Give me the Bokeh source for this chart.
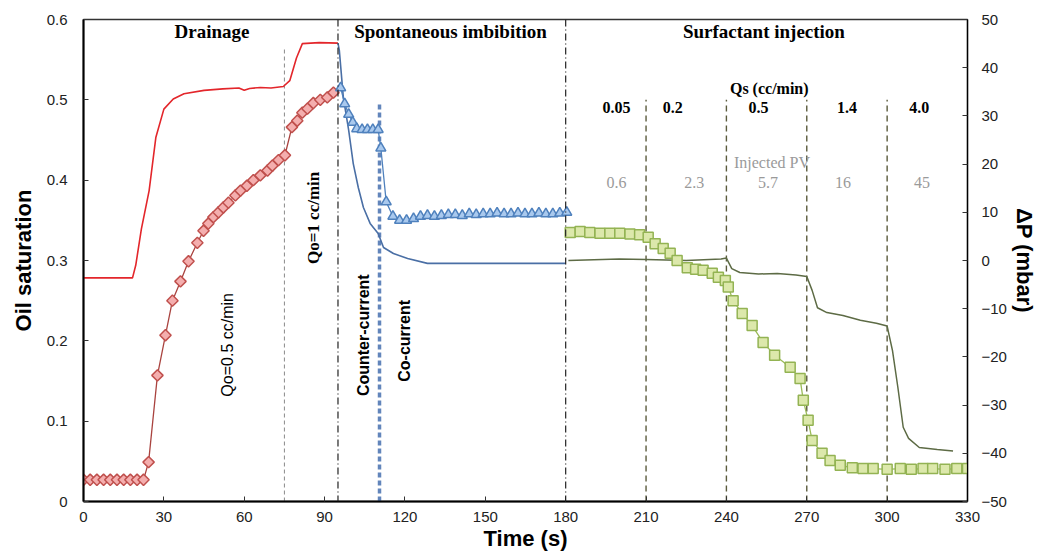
import numpy as np
from bokeh.plotting import figure
from bokeh.models import Range1d, LinearAxis, FixedTicker, Span
from bokeh.core.properties import value
from bokeh.embed import file_html
from bokeh.resources import INLINE

# ---------------- data ----------------
# Drainage: oil saturation (left axis) and pressure drop (right axis)
drain_sat_t = [0, 2.5, 5, 7.5, 10, 12.5, 15, 17.5, 20, 22.4, 24.3, 27.6, 30.6, 33.2, 36.2,
               39.2, 42.5, 44.8, 46.6, 48.5, 50.4, 52.2, 54.1, 56.7, 58.6, 61, 63.4, 66,
               68.7, 70.5, 72.8, 75.2, 77.8, 79.8, 81.7, 83.6, 85.8, 88.4, 91, 93.3]
drain_sat = [0.027, 0.027, 0.027, 0.027, 0.027, 0.027, 0.027, 0.027, 0.027, 0.027, 0.049,
             0.157, 0.207, 0.250, 0.274, 0.299, 0.322, 0.337, 0.346, 0.354, 0.360, 0.366,
             0.372, 0.381, 0.387, 0.393, 0.400, 0.406, 0.412, 0.418, 0.425, 0.431, 0.466,
             0.474, 0.484, 0.489, 0.496, 0.500, 0.503, 0.509]
drain_dp_t = [0, 18.3, 19.5, 21.6, 24.5, 27, 30, 33.5, 37.5, 45, 52, 58, 60, 62, 66, 70,
              74.6, 77, 79.5, 81.7, 88, 95]
drain_dp = [-3.6, -3.6, -1.0, 6.5, 14.5, 25.5, 31.4, 33.5, 34.6, 35.3, 35.6, 35.8, 35.3,
            35.7, 35.9, 35.8, 36.1, 37.3, 42.0, 45.0, 45.2, 45.1]

# Spontaneous imbibition
imb_sat_t = [96, 97.5, 99, 100.5, 102, 104, 106, 108, 110, 111, 113, 115.5, 118, 120.6,
             123.2, 125.8, 128.4, 131, 133.6, 136.2, 138.8, 141.4, 144, 146.6, 149.2,
             151.8, 154.4, 157, 159.6, 162.2, 164.8, 167.4, 170, 172.6, 175.2, 177.8, 180.4]
imb_sat = [0.515, 0.495, 0.482, 0.472, 0.464, 0.463, 0.463, 0.463, 0.463, 0.440, 0.373,
           0.355, 0.350, 0.350, 0.352, 0.355, 0.356, 0.355, 0.356, 0.357, 0.357, 0.356,
           0.358, 0.357, 0.358, 0.358, 0.359, 0.358, 0.358, 0.359, 0.358, 0.358, 0.359,
           0.358, 0.358, 0.359, 0.360]
imb_dp_t = [95, 95.5, 97, 99, 100.7, 102.6, 104.5, 107, 110, 112, 115.7, 121, 128.4, 180]
imb_dp = [45.1, 43.6, 33.8, 27.0, 20.1, 15.1, 11.0, 7.7, 5.6, 2.7, 1.45, 0.4, -0.6, -0.6]

# Surfactant injection
surf_sat_t = [181.7, 185.4, 189, 192.8, 196.5, 200.2, 204, 207.6, 210.8, 213.4, 216.4, 219,
              221.6, 225.4, 228.5, 231.3, 234.7, 237, 239.6, 240.7, 242.5, 245.9, 249.6,
              253.7, 258, 263.8, 267.5, 268.7, 270.5, 272, 275.7, 278.7, 282.5, 287, 291,
              294.8, 300, 304.9, 309, 313.4, 317, 321.6, 326, 330]
surf_sat = [0.335, 0.336, 0.335, 0.334, 0.334, 0.334, 0.333, 0.332, 0.329, 0.321, 0.315,
            0.309, 0.300, 0.291, 0.289, 0.288, 0.284, 0.279, 0.275, 0.267, 0.250, 0.234,
            0.219, 0.198, 0.182, 0.167, 0.153, 0.126, 0.101, 0.076, 0.060, 0.051, 0.045,
            0.042, 0.041, 0.041, 0.040, 0.041, 0.040, 0.041, 0.041, 0.040, 0.041, 0.041]
surf_dp_t = [181, 200, 210, 225, 238, 240, 242, 245, 252, 259, 266, 270, 272, 274, 277.5,
             283.5, 290, 296, 300, 302, 304, 306, 308, 312, 318.7, 324.6]
surf_dp = [0.0, 0.3, 0.2, 0.0, 0.3, 0.5, -1.7, -2.5, -2.8, -2.7, -3.0, -3.3, -6.2, -9.8,
           -10.8, -11.4, -12.4, -13.0, -13.6, -18.7, -26.3, -34.6, -36.9, -38.8, -39.2, -39.5]

x_ticks = [0, 30, 60, 90, 120, 150, 180, 210, 240, 270, 300, 330]
sat_ticks = [0, 0.1, 0.2, 0.3, 0.4, 0.5, 0.6]
sat_tick_labels = ["0", "0.1", "0.2", "0.3", "0.4", "0.5", "0.6"]
dp_ticks = [-50, -40, -30, -20, -10, 0, 10, 20, 30, 40, 50]

rate_labels = ["0.05", "0.2", "0.5", "1.4", "4.0"]
pv_labels = ["0.6", "2.3", "5.7", "16", "45"]

# ---------------- figure ----------------
SANS = "Liberation Sans"
SERIF = "Liberation Serif"

p = figure(width=1039, height=557, output_backend="svg", toolbar_location=None,
           x_range=Range1d(0, 330), y_range=Range1d(0, 0.6),
           min_border_left=83, min_border_right=72, min_border_top=19, min_border_bottom=56)
p.extra_y_ranges = {"dp": Range1d(-50, 50)}
p.background_fill_color = "white"
p.border_fill_color = "white"
p.outline_line_color = "#333333"
p.outline_line_width = 1.5
p.xgrid.visible = False
p.ygrid.visible = False

def style_axis(ax):
    ax.axis_line_color = "black"
    ax.axis_line_width = 2
    ax.major_tick_in = 5
    ax.major_tick_out = 0
    ax.minor_tick_line_color = None
    ax.major_tick_line_color = "#333333"
    ax.major_label_text_font = SANS
    ax.major_label_text_font_size = "15px"
    ax.major_label_text_color = "#222222"
    ax.axis_label_text_font = SANS
    ax.axis_label_text_font_style = "bold"
    ax.axis_label_text_font_size = "22px"
    ax.axis_label_text_color = "black"

xa = p.xaxis[0]
style_axis(xa)
xa.ticker = FixedTicker(ticks=x_ticks)
xa.axis_label = "Time (s)"
xa.major_label_standoff = 10
xa.axis_label_standoff = 1

ya = p.yaxis[0]
style_axis(ya)
ya.ticker = FixedTicker(ticks=sat_ticks)
ya.major_label_overrides = {t: l for t, l in zip(sat_ticks, sat_tick_labels)}
ya.axis_label = "Oil saturation"
ya.major_label_standoff = 16
ya.axis_label_standoff = 8

yr = LinearAxis(y_range_name="dp", axis_label="\u0394P (mbar)")
style_axis(yr)
yr.axis_line_width = 1.2
yr.ticker = FixedTicker(ticks=dp_ticks)
yr.major_label_standoff = 14
yr.axis_label_standoff = 2
p.add_layout(yr, "right")

# ---------------- phase boundary lines ----------------
p.segment(x0=[75], y0=[0], x1=[75], y1=[0.565], line_color="#8a8a8a", line_width=1,
          line_dash="4 3")
for xv in (95, 180):
    p.add_layout(Span(location=xv, dimension="height", line_color="#222222",
                      line_width=1.2, line_dash="7 3 1 3"))
p.segment(x0=[110.5], y0=[0], x1=[110.5], y1=[0.497], line_color="#6285bb",
          line_width=3.5, line_dash="5 3")
p.segment(x0=[210, 240, 270, 300], y0=[0] * 4, x1=[210, 240, 270, 300], y1=[0.5] * 4,
          line_color="#5a5a3c", line_width=1.4, line_dash="6 4")

# ---------------- pressure lines (right axis) ----------------
p.line(drain_dp_t, drain_dp, y_range_name="dp", line_color="#e3262b", line_width=1.6)
p.line(imb_dp_t, imb_dp, y_range_name="dp", line_color="#4a6fa5", line_width=1.6)
p.line(surf_dp_t, surf_dp, y_range_name="dp", line_color="#5d6b45", line_width=1.5)

# ---------------- saturation markers (left axis) ----------------
p.line(drain_sat_t, drain_sat, line_color="#a9433f", line_width=1.3)
p.scatter(drain_sat_t, drain_sat, marker="square", angle=np.pi / 4, size=8,
          fill_color="#f4aeae", line_color="#c0504d", line_width=1.5)
p.line(imb_sat_t, imb_sat, line_color="#4f81bd", line_width=1.3)
p.scatter(imb_sat_t, imb_sat, marker="triangle", size=10, fill_color="#a9c9ee",
          line_color="#4f81bd", line_width=1.5)
p.line(surf_sat_t, surf_sat, line_color="#9bbb59", line_width=1.3)
p.scatter(surf_sat_t, surf_sat, marker="square", size=10, fill_color="#dce8ab",
          line_color="#93b353", line_width=1.5)

# ---------------- annotations ----------------
p.text(x=[48, 137, 254], y=[0.585, 0.585, 0.585],
       text=["Drainage", "Spontaneous imbibition", "Surfactant injection"],
       text_font=value(SERIF), text_font_style="bold", text_font_size="19px",
       text_align="center", text_baseline="middle", text_color="black")
p.text(x=[256], y=[0.514], text=["Qs (cc/min)"], text_font=value(SERIF),
       text_font_style="bold", text_font_size="16px", text_align="center",
       text_baseline="middle", text_color="black")
p.text(x=[199, 220, 252, 285, 312], y=[0.491] * 5, text=rate_labels,
       text_font=value(SERIF), text_font_style="bold", text_font_size="16px",
       text_align="center", text_baseline="middle", text_color="black")
p.text(x=[257], y=[0.422], text=["Injected PV"], text_font=value(SERIF),
       text_font_size="16px", text_align="center", text_baseline="middle",
       text_color="#9a9a9a")
p.text(x=[199, 228, 255.5, 283.5, 313], y=[0.397] * 5, text=pv_labels,
       text_font=value(SERIF), text_font_size="16px", text_align="center",
       text_baseline="middle", text_color="#9a9a9a")

# rotated labels
p.text(x=[53.7], y=[0.195], text=["Qo=0.5 cc/min"], angle=np.pi / 2,
       text_font=value(SANS), text_font_size="16px", text_align="center",
       text_baseline="middle", text_color="black")
p.text(x=[85.8], y=[0.353], text=["Qo=1 cc/min"], angle=np.pi / 2,
       text_font=value(SERIF), text_font_style="bold", text_font_size="17px",
       text_align="center", text_baseline="middle", text_color="black")
p.text(x=[104.5, 119.8], y=[0.207, 0.200], text=["Counter-current", "Co-current"],
       angle=np.pi / 2, text_font=value(SANS), text_font_style="bold",
       text_font_size="16px", text_align="center", text_baseline="middle",
       text_color="black")

open("out.html", "w").write(file_html(p, INLINE))
